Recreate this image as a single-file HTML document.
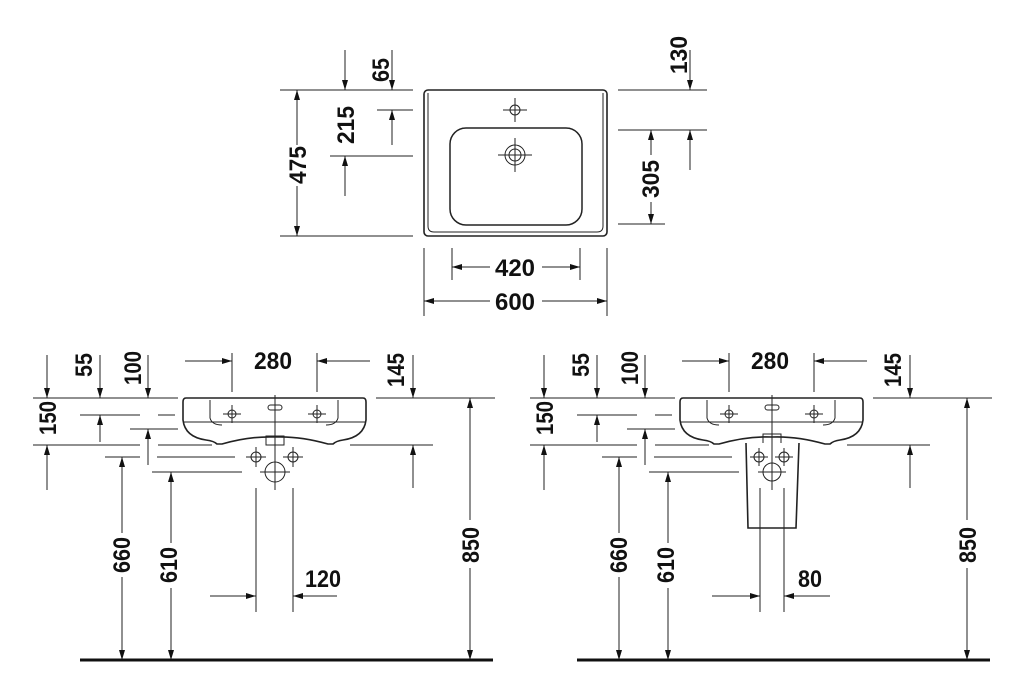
<!DOCTYPE html>
<html><head><meta charset="utf-8"><style>
html,body{margin:0;padding:0;background:#fff;width:1024px;height:700px;overflow:hidden}
svg{display:block}
text{font-family:"Liberation Sans Narrow","Liberation Sans",sans-serif;font-weight:bold;font-size:24px;fill:#111}
</style></head><body>
<svg width="1024" height="700" viewBox="0 0 1024 700" xmlns="http://www.w3.org/2000/svg">
<defs>
<marker id="a" viewBox="0 0 10 6" refX="10" refY="3" markerWidth="10" markerHeight="6" orient="auto" markerUnits="userSpaceOnUse"><path d="M0,0 L10,3 L0,6 Z" fill="#111"/></marker>
</defs>
<g stroke="#222" stroke-width="1" fill="none">
<!-- TOP VIEW -->
<rect x="424" y="90" width="183" height="146" rx="4" stroke-width="1.6"/>
<path d="M428,93 V226 Q428,232 434,232 H597 Q603,232 603,226 V93"/>
<rect x="450" y="128" width="132" height="97" rx="16" stroke-width="1.5"/>
<circle cx="515" cy="110" r="5"/><path d="M503,110 H527 M515,98 V122"/>
<circle cx="515" cy="155" r="10"/><circle cx="515" cy="155" r="6"/><path d="M498,155 H532 M515,138 V172"/>
<path d="M280,90 H413 M618,90 H707 M377,110 H413 M330,156 H413 M280,236 H413 M618,130 H707 M618,224 H665"/>
<path d="M345,50 V90" marker-end="url(#a)"/>
<path d="M392,50 V90" marker-end="url(#a)"/>
<path d="M392,145 V110" marker-end="url(#a)"/>
<path d="M345,196 V156" marker-end="url(#a)"/>
<path d="M297,145 V90" marker-end="url(#a)"/>
<path d="M297,186 V236" marker-end="url(#a)"/>
<path d="M690,50 V90" marker-end="url(#a)"/>
<path d="M690,170 V130" marker-end="url(#a)"/>
<path d="M651,155 V130" marker-end="url(#a)"/>
<path d="M651,202 V224" marker-end="url(#a)"/>
<path d="M452,248 V280 M580,248 V280 M424,248 V316 M607,248 V316"/>
<path d="M490,267 H452" marker-end="url(#a)"/>
<path d="M542,267 H580" marker-end="url(#a)"/>
<path d="M490,301 H424" marker-end="url(#a)"/>
<path d="M542,301 H607" marker-end="url(#a)"/>
</g>
<text x="515" y="276" text-anchor="middle" textLength="40" lengthAdjust="spacingAndGlyphs">420</text>
<text x="515" y="310" text-anchor="middle" textLength="40" lengthAdjust="spacingAndGlyphs">600</text>
<text transform="translate(389,70) rotate(-90)" text-anchor="middle" textLength="24" lengthAdjust="spacingAndGlyphs">65</text>
<text transform="translate(354,125) rotate(-90)" text-anchor="middle" textLength="38" lengthAdjust="spacingAndGlyphs">215</text>
<text transform="translate(306,165) rotate(-90)" text-anchor="middle" textLength="38" lengthAdjust="spacingAndGlyphs">475</text>
<text transform="translate(687,55) rotate(-90)" text-anchor="middle" textLength="38" lengthAdjust="spacingAndGlyphs">130</text>
<text transform="translate(659,179) rotate(-90)" text-anchor="middle" textLength="38" lengthAdjust="spacingAndGlyphs">305</text>

<!-- FRONT VIEW (shared) -->
<g id="front">
<g stroke="#222" stroke-width="1" fill="none">
<path d="M186,398 H363 Q366,398 366,402 V420 Q364,437 343,440 Q336,441 333,444 H328 Q300,436 275,437 Q250,436 222,444 H217 Q214,441 206,440 Q185,437 183,420 V402 Q183,398 186,398 Z" stroke-width="1.6"/>
<path d="M183,422 H366"/>
<path d="M210,400 V418 Q212,425 222,425 M338,400 V418 Q336,425 326,425"/>
<rect x="268" y="405" width="14" height="5" rx="2.5"/>
<circle cx="232" cy="414" r="4"/><path d="M223,414 H241 M232,405 V423"/>
<circle cx="317" cy="414" r="4"/><path d="M308,414 H326 M317,405 V423"/>
<path d="M275,395 V490"/>
<path d="M33,398 H178 M376,398 H495 M80,415 H140 M158,415 H175 M130,429 H178 M33,445 H140 M158,445 H212 M350,445 H433 M105,457 H140 M157,457 H235 M152,472 H242"/>
<path d="M47,355 V398" marker-end="url(#a)"/>
<path d="M100,355 V398" marker-end="url(#a)"/>
<path d="M148,355 V398" marker-end="url(#a)"/>
<path d="M413,355 V398" marker-end="url(#a)"/>
<path d="M47,490 V445" marker-end="url(#a)"/>
<path d="M100,442 V415" marker-end="url(#a)"/>
<path d="M148,465 V429" marker-end="url(#a)"/>
<path d="M413,488 V445" marker-end="url(#a)"/>
<path d="M232,353 V392 M317,353 V392"/>
<path d="M185,361 H232" marker-end="url(#a)"/>
<path d="M370,361 H317" marker-end="url(#a)"/>
<path d="M122,533 V457" marker-end="url(#a)"/>
<path d="M122,577 V660" marker-end="url(#a)"/>
<path d="M171,543 V472" marker-end="url(#a)"/>
<path d="M171,588 V660" marker-end="url(#a)"/>
<path d="M470,520 V398" marker-end="url(#a)"/>
<path d="M470,568 V660" marker-end="url(#a)"/>
</g>
<text x="273" y="369" text-anchor="middle" textLength="38" lengthAdjust="spacingAndGlyphs">280</text>
<text transform="translate(92,365) rotate(-90)" text-anchor="middle" textLength="24" lengthAdjust="spacingAndGlyphs">55</text>
<text transform="translate(141,368) rotate(-90)" text-anchor="middle" textLength="34" lengthAdjust="spacingAndGlyphs">100</text>
<text transform="translate(404,370) rotate(-90)" text-anchor="middle" textLength="34" lengthAdjust="spacingAndGlyphs">145</text>
<text transform="translate(56,418) rotate(-90)" text-anchor="middle" textLength="34" lengthAdjust="spacingAndGlyphs">150</text>
<text transform="translate(130,555) rotate(-90)" text-anchor="middle" textLength="36" lengthAdjust="spacingAndGlyphs">660</text>
<text transform="translate(177,565) rotate(-90)" text-anchor="middle" textLength="36" lengthAdjust="spacingAndGlyphs">610</text>
<text transform="translate(479,545) rotate(-90)" text-anchor="middle" textLength="36" lengthAdjust="spacingAndGlyphs">850</text>
<path d="M80,660 H493" stroke="#111" stroke-width="3"/>
</g>
<g stroke="#222" stroke-width="1" fill="none">
<rect x="266" y="436" width="18" height="9"/>
<circle cx="256" cy="457" r="5"/><path d="M246,457 H266 M256,447 V467"/>
<circle cx="293" cy="457" r="5"/><path d="M283,457 H303 M293,447 V467"/>
<circle cx="275" cy="472" r="10"/><path d="M260,472 H290"/>
<path d="M256,488 V612 M293,488 V612"/>
<path d="M210,596 H256" marker-end="url(#a)"/>
<path d="M337,596 H293" marker-end="url(#a)"/>
</g>
<text x="323" y="587" text-anchor="middle" textLength="36" lengthAdjust="spacingAndGlyphs">120</text>

<use href="#front" transform="translate(497,0)"/>
<g stroke="#222" stroke-width="1" fill="none">
<rect x="763" y="434" width="18" height="10"/>
<path d="M746,443 L748,528 H796 L799,443" stroke-width="1.6" fill="#fff"/>
<path d="M772,395 V490"/>
<circle cx="759" cy="457" r="5"/><path d="M750,457 H768 M759,448 V466"/>
<circle cx="784" cy="457" r="5"/><path d="M775,457 H793 M784,448 V466"/>
<circle cx="772" cy="472" r="9"/><path d="M758,472 H786"/>
<path d="M760,488 V612 M784,488 V612"/>
<path d="M712,596 H760" marker-end="url(#a)"/>
<path d="M830,596 H784" marker-end="url(#a)"/>
</g>
<text x="810" y="587" text-anchor="middle" textLength="24" lengthAdjust="spacingAndGlyphs">80</text>
</svg>
</body></html>
